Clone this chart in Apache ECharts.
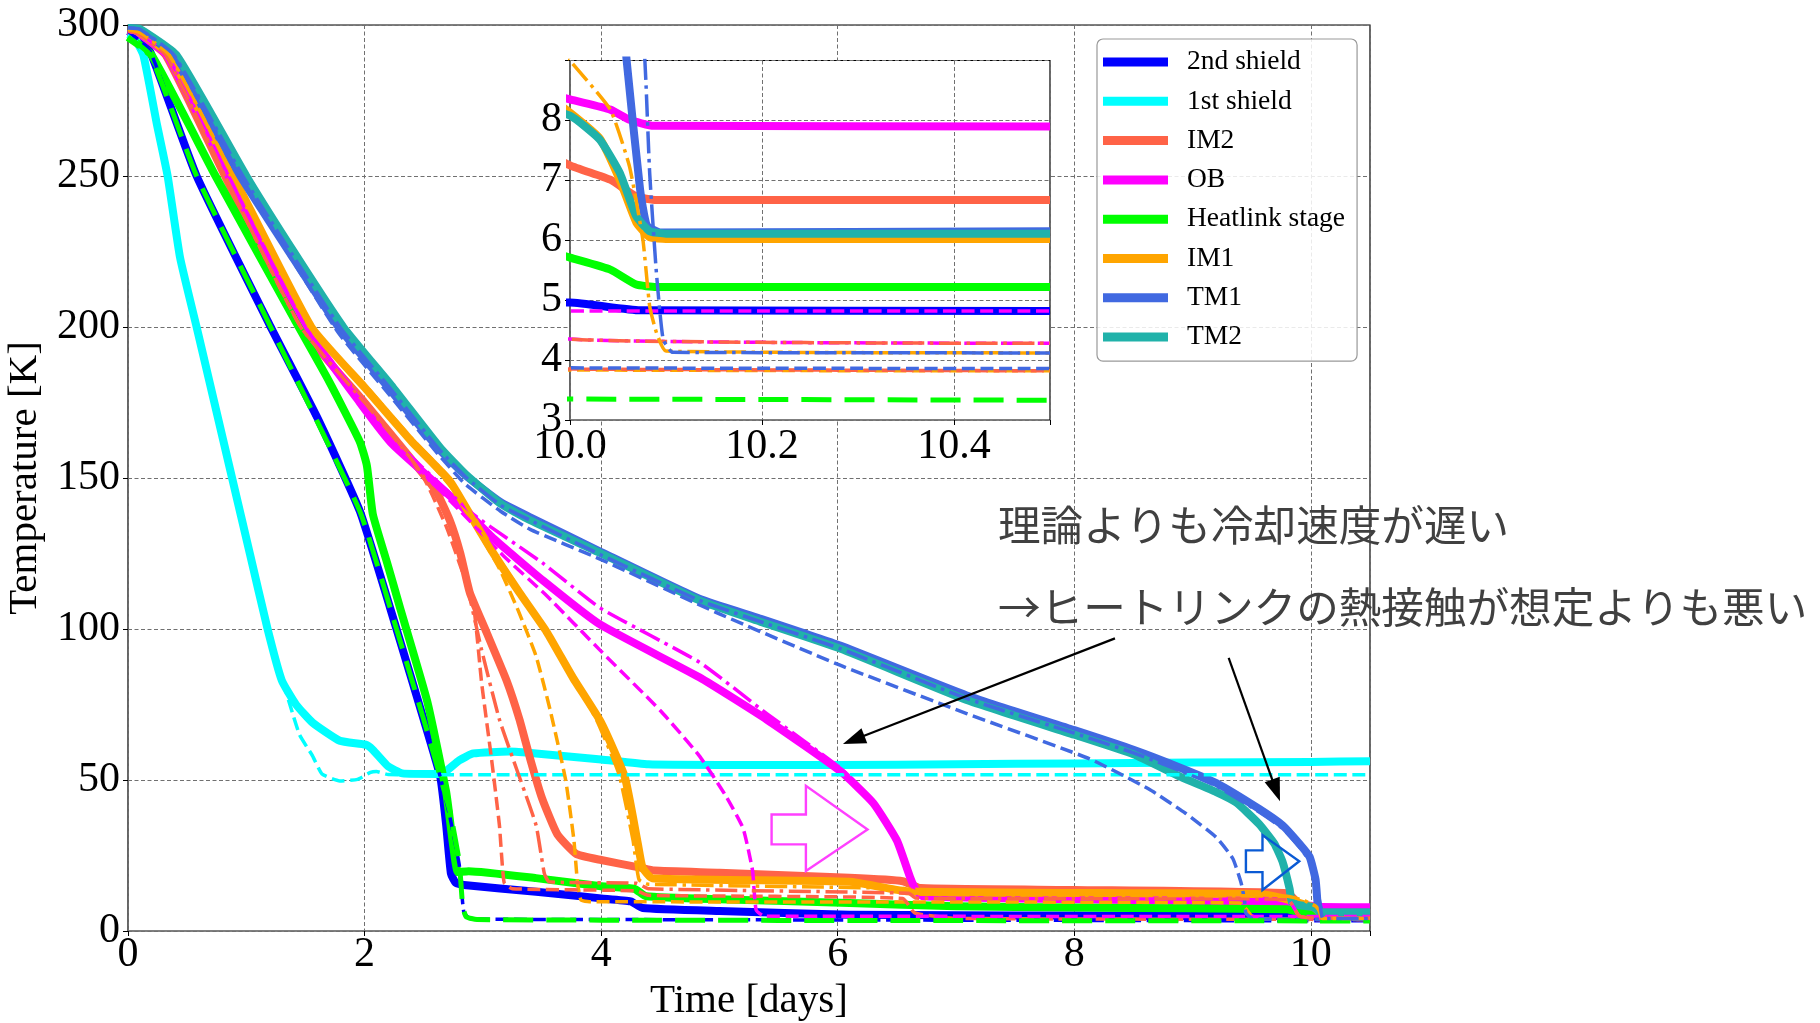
<!DOCTYPE html>
<html><head><meta charset="utf-8">
<script src="https://cdn.jsdelivr.net/npm/echarts/dist/echarts.min.js"></script>
<style>html,body{margin:0;padding:0;background:#fff}#c{width:1820px;height:1023px}</style>
</head><body><div id="c"></div>
<script>
// ---------- measured (solid) ----------
const shield2Meas = [[0,298],[0.05,297],[0.1,295],[0.19,291],[0.58,250],[1.2,200.5],[1.6,170],[1.96,139],[2.27,100],[2.5,70],[2.64,51],[2.69,35],[2.73,19],[2.77,16],[2.84,15.2],[3.45,13],[4.0,10.8],[4.25,9.8],[4.35,7.6],[5,6.6],[6.1,5.4],[7,5.2],[8,5.1],[9,5.0],[10,4.96],[10.073,4.83],[10.5,4.82]];
const shield1Meas = [[0,297],[0.05,296],[0.13,290],[0.245,267],[0.335,250],[0.44,223],[0.58,200],[0.73,175],[0.88,150],[1.03,125],[1.18,100],[1.3,83],[1.42,75],[1.56,69],[1.79,63],[2.01,61.7],[2.07,60],[2.2,54.5],[2.32,52.2],[2.62,52],[2.69,53],[2.8,56.5],[2.92,58.8],[3.22,59.4],[3.45,58.8],[4.0,56.8],[4.4,55.2],[5,55],[6,55],[7,55.2],[8,55.5],[9,55.8],[10,56],[10.5,56.2]];
const im2Meas = [[0,298],[0.1,297],[0.32,290],[0.82,250],[1.46,200],[2.0,175],[2.4,156],[2.6,146],[2.72,136],[2.81,125],[2.89,112],[3.03,99],[3.2,83],[3.31,70],[3.4,57],[3.5,44],[3.63,32],[3.79,25.5],[4.0,23.5],[4.33,21],[4.45,20],[5,19.3],[6.1,17.6],[6.55,16.5],[6.7,14.2],[8,13.6],[9.8,12.5],[9.9,9],[9.95,7.7],[10.0,7.25],[10.042,7.01],[10.069,6.73],[10.09,6.67],[10.5,6.67]];
const obMeas = [[0,298],[0.1,297],[0.33,290],[0.85,250],[1.5,200],[1.96,175],[2.24,161],[2.81,141],[3.09,130],[3.51,116],[3.99,101.5],[4.83,84],[5.4,70],[6.02,53],[6.3,42.4],[6.5,30],[6.61,18],[6.66,13.6],[6.72,11.5],[8,10.5],[9.8,9.5],[9.9,8.8],[10.0,8.35],[10.042,8.18],[10.062,8.01],[10.087,7.91],[10.5,7.9]];
const hlMeas = [[0,296],[0.2,290],[0.74,250],[1.4,203],[1.7,182],[1.96,162],[2.02,154],[2.07,138],[2.19,122],[2.3,107],[2.53,76],[2.69,46],[2.75,28],[2.79,19.5],[2.88,19.8],[3.45,17.5],[4.0,14.8],[4.28,14],[4.38,11.5],[5,10.5],[6.1,9.3],[7,8.2],[8,7.8],[9,7.5],[9.8,7.2],[9.9,6.2],[10.0,5.71],[10.042,5.51],[10.069,5.26],[10.09,5.22],[10.5,5.22]];
const im1Meas = [[0,298.5],[0.1,297.5],[0.35,290],[0.89,250],[1.55,200],[2.0,180],[2.4,162],[2.72,149],[2.89,138],[3.09,125],[3.31,112],[3.54,99],[3.76,84],[4.0,69],[4.2,51],[4.31,29],[4.35,21],[4.43,17.5],[6.1,16.3],[6.58,13.2],[8.63,12.5],[9.57,12.2],[9.76,10.9],[9.9,9.3],[10.0,8.13],[10.031,7.7],[10.052,7.0],[10.069,6.3],[10.083,6.05],[10.1,6.02],[10.5,6.02]];
const tm1Meas = [[0,299],[0.1,298.5],[0.38,290],[0.95,250],[1.36,225],[1.78,200],[2.2,180],[2.62,160],[2.85,151],[3.15,142],[3.4,137],[4.0,125.5],[4.83,110],[5.34,103.5],[6.02,94.5],[7.09,78],[8.0,66.5],[8.5,60],[8.9,54],[9.2,49],[9.56,40.5],[9.76,35],[9.9,29],[9.99,24.5],[10.04,17],[10.055,10],[10.059,9],[10.073,6.85],[10.08,6.25],[10.094,6.13],[10.5,6.15]];
const tm2Meas = [[0,299],[0.1,298.7],[0.41,290],[1.0,250],[1.4,225],[1.82,200],[2.24,180],[2.64,160],[2.86,151],[3.15,141.5],[3.4,136],[4.0,125],[4.83,109.5],[5.34,102.5],[6.02,93.5],[7.09,76.5],[8.0,65],[8.5,58.5],[8.9,51],[9.2,46],[9.37,42.5],[9.56,35.5],[9.69,29],[9.76,23],[9.82,14],[9.84,9.5],[9.9,8.6],[10.0,8.08],[10.031,7.68],[10.052,7.12],[10.069,6.4],[10.083,6.15],[10.1,6.11],[10.5,6.11]];

// ---------- model (dashed) ----------
const shield1Dash = [[0,297],[0.05,296],[0.13,290],[0.245,267],[0.335,250],[0.44,223],[0.58,200],[0.73,175],[0.88,150],[1.03,125],[1.18,100],[1.33,80],[1.45,65],[1.56,58],[1.64,52],[1.79,49.7],[1.94,50.2],[2.05,52.5],[2.1,52.8],[2.2,51.8],[3,51.7],[10.5,51.7]];
const shield2Dash = [[0,298],[0.19,291],[0.58,250],[1.2,200.5],[1.96,139],[2.27,100],[2.5,70],[2.64,51],[2.72,38],[2.8,22],[2.84,6],[2.9,4],[4,3.8],[10.5,3.35]];
const im2Dash = [[0,298],[0.1,297],[0.32,290],[0.82,250],[1.46,200],[2.0,176],[2.5,150],[2.69,134],[2.8,122],[2.92,108],[2.99,82],[3.07,58],[3.14,35],[3.18,16],[3.25,14],[4.3,13.3],[4.4,11.8],[6.55,10.8],[6.65,6],[7,4.2],[10,3.85],[10.5,3.82]];
const obDash = [[0,298],[0.1,297],[0.33,290],[0.85,250],[1.5,200],[1.96,176],[2.24,162],[2.81,139],[3.18,124],[3.54,111],[3.99,93],[4.5,73],[4.83,58],[5.05,45],[5.2,34],[5.28,20],[5.31,7],[5.38,4.9],[10.5,4.82]];
const im1Dash = [[0,298.5],[0.1,297.5],[0.35,290],[0.89,250],[1.55,200],[2.0,180],[2.4,162],[2.75,146],[2.95,133],[3.14,120],[3.3,106],[3.45,91],[3.57,73],[3.7,50],[3.77,30],[3.8,16],[3.83,10.2],[3.9,9.7],[6.6,9.6],[9.4,9.3],[9.5,5],[9.6,3.9],[10.5,3.82]];
const tm1Dash = [[0,299],[0.1,298.5],[0.38,290],[0.95,250],[1.36,224],[1.78,198],[2.2,178],[2.62,158],[2.85,148],[3.15,139],[3.4,133],[4.0,123],[5.0,105],[6.02,88],[7.09,72],[8.13,57],[8.63,47],[8.94,39],[9.2,31],[9.34,24],[9.41,16],[9.44,10],[9.45,6],[9.5,4.2],[9.7,3.9],[10.5,3.86]];
const hlDash = [[0,296],[0.19,290],[0.58,250],[1.2,200.5],[1.96,139],[2.27,100],[2.5,70],[2.64,51],[2.72,40],[2.8,23],[2.83,8],[2.86,4.7],[2.95,3.8],[4,3.6],[7,3.45],[10,3.35],[10.5,3.33]];

// ---------- model (dash-dot) ----------
const im2DashDot = [[0,298],[0.1,297],[0.32,290],[0.82,250],[1.46,200],[2.0,175],[2.4,156],[2.72,137],[2.88,112],[2.99,93],[3.14,70],[3.3,52],[3.45,35],[3.52,19],[3.56,16.3],[4.3,15.8],[4.4,14],[6.6,12.5],[6.66,10.9],[9.8,10.5],[9.9,5],[10.0,4.35],[10.5,4.28]];
const obDashDot = [[0,298],[0.1,297],[0.33,290],[0.85,250],[1.5,200],[1.96,177],[2.24,163],[2.92,138],[3.5,122],[3.99,107],[4.83,89],[5.4,72],[6.02,54],[6.3,43],[6.5,31],[6.6,19],[6.65,13],[6.7,11],[9.8,10.6],[9.9,5],[10.0,4.35],[10.5,4.28]];
const im1DashDot = [[0,298.5],[0.1,297.5],[0.35,290],[0.89,250],[1.55,200],[2.0,181],[2.4,163],[2.72,150],[2.89,139],[3.09,126],[3.31,113],[3.54,99],[3.76,84],[3.96,70],[4.15,52],[4.27,30],[4.32,17],[4.4,15.5],[6.6,14],[6.7,12.2],[9.8,11.5],[9.95,10],[10.0,9.0],[10.042,8.18],[10.062,7.23],[10.076,6.0],[10.083,4.9],[10.09,4.46],[10.1,4.15],[10.5,4.12]];
const tm1DashDot = [[0,299],[0.1,298.6],[0.39,290],[0.97,250],[1.38,224.5],[1.8,199.5],[2.22,179.5],[2.63,159.5],[2.85,150.5],[3.15,141],[3.4,136],[4.0,124.5],[4.83,109.5],[5.34,102.5],[6.02,93.5],[7.09,77],[8.0,65.5],[8.5,59],[8.9,53],[9.2,48],[9.56,39.5],[9.76,34],[9.9,28],[9.99,23],[10.04,17],[10.06,13],[10.078,9],[10.083,7.12],[10.09,5.46],[10.097,4.35],[10.107,4.13],[10.5,4.12]];

// ---------- annotations (data coordinates) ----------
const arrowTails = [[8.344,96.9],[9.305,90.4]];
const arrowTips  = [[6.044,61.9],[9.739,43.0]];
const blockArrowPink = [[5.441,38.6],[5.731,38.6],[5.731,48.1],[6.252,33.6],[5.731,19.9],[5.731,28.7],[5.441,28.7]];
const blockArrowBlue = [[9.451,26.7],[9.591,26.7],[9.591,31.8],[9.902,23.1],[9.591,13.6],[9.591,19.5],[9.451,19.5]];
const note1 = '理論よりも冷却速度が遅い';
const note2 = '→ヒートリンクの熱接触が想定よりも悪い';

// ---------- ticks ----------
const mainXTicks = [0, 10.5, 2];
const mainYTicks = [0, 300, 50];
const insetXTicks = [10.0, 10.5, 0.2];
const insetYTicks = [3, 9, 1];

const C = {s2:'#0000ff', s1:'#00ffff', im2:'#ff6347', ob:'#ff00ff', hl:'#00ff00', im1:'#ffa500', tm1:'#4169e1', tm2:'#20b2aa'};
const SERIF = 'Liberation Serif';

const styles = {
  solid:   {width: 8,   type: 'solid'},
  dashed:  {width: 3.5, type: [13, 5.6]},
  longdash:{width: 5,   type: [30, 13]},
  dashdot: {width: 3.5, type: [22, 5.6, 3.5, 5.6]}
};

// [name, data, colour, style, shown in inset]
const defs = [
  ['2nd shield', shield2Meas, C.s2, 'solid', true],
  ['1st shield', shield1Meas, C.s1, 'solid', true],
  ['IM2', im2Meas, C.im2, 'solid', true],
  ['OB', obMeas, C.ob, 'solid', true],
  ['Heatlink stage', hlMeas, C.hl, 'solid', true],
  ['IM1', im1Meas, C.im1, 'solid', true],
  ['TM1', tm1Meas, C.tm1, 'solid', true],
  ['TM2', tm2Meas, C.tm2, 'solid', true],
  ['1st shield model', shield1Dash, C.s1, 'dashed', true],
  ['2nd shield model', shield2Dash, C.s2, 'dashed', false],
  ['IM1 model', im1Dash, C.im1, 'dashed', true],
  ['IM2 model', im2Dash, C.im2, 'dashed', true],
  ['OB model', obDash, C.ob, 'dashed', true],
  ['TM1 model', tm1Dash, C.tm1, 'dashed', true],
  ['Heatlink model', hlDash, C.hl, 'longdash', true],
  ['OB model 2', obDashDot, C.ob, 'dashdot', true],
  ['IM2 model 2', im2DashDot, C.im2, 'dashdot', true],
  ['IM1 model 2', im1DashDot, C.im1, 'dashdot', true],
  ['TM1 model 2', tm1DashDot, C.tm1, 'dashdot', true]
];

function lineSeries(d, idx) {
  const st = styles[d[3]];
  return {
    type: 'line', name: d[0], data: d[1],
    xAxisIndex: idx, yAxisIndex: idx, zlevel: idx,
    showSymbol: false, symbol: 'none', smooth: 0.15,
    color: d[2], itemStyle: {color: d[2]},
    lineStyle: {color: d[2], width: st.width, type: st.type, cap: 'butt', join: 'round'},
    emphasis: {disabled: true}, silent: true, animation: false, clip: true
  };
}

const series = [];
defs.forEach(d => series.push(lineSeries(d, 0)));
defs.filter(d => d[4]).forEach(d => series.push(lineSeries(d, 1)));

series.push({
  type: 'custom', xAxisIndex: 0, yAxisIndex: 0, z: 20, silent: true,
  data: [[0, 0], [1, 0]],
  renderItem: function (params, api) {
    const poly = params.dataIndex === 0 ? blockArrowPink : blockArrowBlue;
    const col = params.dataIndex === 0 ? '#ff40ff' : '#0a5ad4';
    return {type: 'polygon', shape: {points: poly.map(p => api.coord(p))},
      style: {fill: 'none', stroke: col, lineWidth: 2.4, lineJoin: 'miter'}};
  }
});
series.push({
  type: 'custom', xAxisIndex: 0, yAxisIndex: 0, z: 21, silent: true,
  data: [[0, 0], [1, 0]],
  renderItem: function (params, api) {
    const i = params.dataIndex;
    const a = api.coord(arrowTails[i]), b = api.coord(arrowTips[i]);
    const dx = b[0] - a[0], dy = b[1] - a[1], L = Math.hypot(dx, dy), ux = dx / L, uy = dy / L;
    const hl = 23, hw = 8;
    const base = [b[0] - ux * hl, b[1] - uy * hl];
    return {type: 'group', children: [
      {type: 'line', shape: {x1: a[0], y1: a[1], x2: base[0] + ux * 3, y2: base[1] + uy * 3},
        style: {stroke: '#000', lineWidth: 2.2}},
      {type: 'polygon', shape: {points: [b, [base[0] - uy * hw, base[1] + ux * hw], [base[0] + uy * hw, base[1] - ux * hw]]},
        style: {fill: '#000'}}
    ]};
  }
});

const gridLine = {show: true, lineStyle: {color: '#707070', width: 1, type: [4, 2.5]}};
const tickStyle = {show: true, inside: false, length: 5, lineStyle: {color: '#000', width: 1}};
const labelFont = {fontFamily: SERIF, fontSize: 42, color: '#000'};

const option = {
  animation: false,
  backgroundColor: '#fff',
  grid: [
    {left: 128, top: 25, width: 1242, height: 906, outerBoundsMode: 'none', containLabel: false,
      show: true, borderColor: '#000', borderWidth: 1.2, backgroundColor: '#fff', z: 0},
    {left: 570, top: 60.5, width: 480, height: 359.5, outerBoundsMode: 'none', containLabel: false,
      show: true, borderColor: '#000', borderWidth: 1.2, backgroundColor: '#fff', zlevel: 1}
  ],
  xAxis: [
    {type: 'value', gridIndex: 0, min: mainXTicks[0], max: mainXTicks[1], interval: mainXTicks[2],
      name: 'Time [days]', nameLocation: 'middle', nameGap: 47,
      nameTextStyle: {fontFamily: SERIF, fontSize: 41, color: '#000'},
      axisLine: {show: false}, axisTick: tickStyle, splitLine: gridLine,
      axisLabel: Object.assign({margin: 3, formatter: v => (Math.abs(v - Math.round(v)) < 1e-9 ? String(Math.round(v)) : '')}, labelFont)},
    {type: 'value', gridIndex: 1, zlevel: 1, min: insetXTicks[0], max: insetXTicks[1], interval: insetXTicks[2],
      axisLine: {show: false}, axisTick: tickStyle, splitLine: gridLine,
      axisLabel: Object.assign({margin: 6, formatter: v => (Math.abs(v - 10.5) < 1e-6 ? '' : v.toFixed(1))}, labelFont)}
  ],
  yAxis: [
    {type: 'value', gridIndex: 0, min: mainYTicks[0], max: mainYTicks[1], interval: mainYTicks[2],
      name: 'Temperature [K]', nameLocation: 'middle', nameGap: 71,
      nameTextStyle: {fontFamily: SERIF, fontSize: 41, color: '#000'},
      axisLine: {show: false}, axisTick: tickStyle, splitLine: gridLine,
      axisLabel: Object.assign({margin: 8}, labelFont)},
    {type: 'value', gridIndex: 1, zlevel: 1, min: insetYTicks[0], max: insetYTicks[1], interval: insetYTicks[2],
      axisLine: {show: false}, axisTick: tickStyle, splitLine: gridLine,
      axisLabel: Object.assign({margin: 8, formatter: v => (v >= 9 ? '' : String(v))}, labelFont)}
  ],
  legend: {
    show: true, zlevel: 1, selectedMode: false, orient: 'vertical',
    left: 1097, top: 39,
    data: defs.slice(0, 8).map(d => d[0]),
    icon: 'rect', itemWidth: 65, itemHeight: 9, itemGap: 9.3,
    itemStyle: {borderWidth: 0},
    textStyle: {fontFamily: SERIF, fontSize: 27.5, color: '#000', lineHeight: 30, padding: [0, 0, 0, 14]},
    padding: [8, 12, 9, 6],
    backgroundColor: 'rgba(255,255,255,0.85)', borderColor: '#999', borderWidth: 1.2, borderRadius: 6
  },
  graphic: [
    {type: 'text', x: 998, y: 525, z: 100, silent: true,
      style: {text: note1, fontFamily: 'Noto Sans CJK JP', fontSize: 42.6, fill: '#404040', verticalAlign: 'middle', align: 'left'}},
    {type: 'text', x: 998, y: 607, z: 100, silent: true,
      style: {text: note2, fontFamily: 'Noto Sans CJK JP', fontSize: 42.6, fill: '#404040', verticalAlign: 'middle', align: 'left'}}
  ],
  series: series
};

const chart = echarts.init(document.getElementById('c'), null, {renderer: 'canvas'});
chart.setOption(option);
</script></body></html>
